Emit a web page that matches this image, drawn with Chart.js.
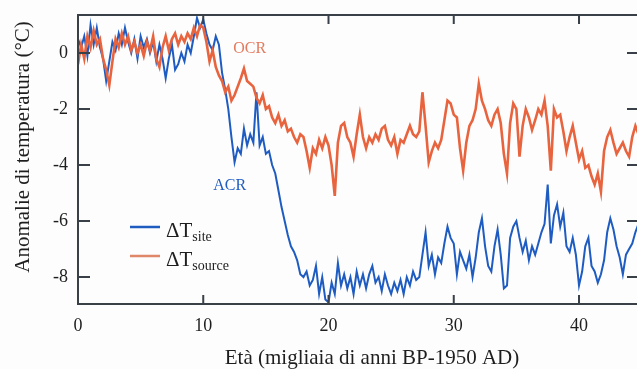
<!DOCTYPE html>
<html>
<head>
<meta charset="utf-8">
<script src="https://cdn.jsdelivr.net/npm/chart.js@4"></script>
<style>
  body { margin: 0; background: #fdfdfd; }
  canvas { display: block; }
</style>
</head>
<body>
<canvas id="chart" width="637" height="369"></canvas>
<script>
// ages in kyr BP
const ages = [
  0, 0.25, 0.5, 0.75, 1, 1.25, 1.5, 1.75, 2, 2.25, 2.5, 2.75, 3, 3.25, 3.5, 3.75,
  4, 4.25, 4.5, 4.75, 5, 5.25, 5.5, 5.75, 6, 6.25, 6.5, 6.75, 7, 7.25, 7.5, 7.75,
  8, 8.25, 8.5, 8.75, 9, 9.25, 9.5, 9.75, 10, 10.25, 10.5, 10.75, 11, 11.25, 11.5, 11.75,
  12, 12.25, 12.5, 12.75, 13, 13.25, 13.5, 13.75, 14, 14.25, 14.5, 14.75, 15, 15.25, 15.5, 15.75,
  16, 16.25, 16.5, 16.75, 17, 17.25, 17.5, 17.75, 18, 18.25, 18.5, 18.75, 19, 19.25, 19.5, 19.75,
  20, 20.25, 20.5, 20.75, 21, 21.25, 21.5, 21.75, 22, 22.25, 22.5, 22.75, 23, 23.25, 23.5, 23.75,
  24, 24.25, 24.5, 24.75, 25, 25.25, 25.5, 25.75, 26, 26.25, 26.5, 26.75, 27, 27.25, 27.5, 27.75,
  28, 28.25, 28.5, 28.75, 29, 29.25, 29.5, 29.75, 30, 30.25, 30.5, 30.75, 31, 31.25, 31.5, 31.75,
  32, 32.25, 32.5, 32.75, 33, 33.25, 33.5, 33.75, 34, 34.25, 34.5, 34.75, 35, 35.25, 35.5, 35.75,
  36, 36.25, 36.5, 36.75, 37, 37.25, 37.5, 37.75, 38, 38.25, 38.5, 38.75, 39, 39.25, 39.5, 39.75,
  40, 40.25, 40.5, 40.75, 41, 41.25, 41.5, 41.75, 42, 42.25, 42.5, 42.75, 43, 43.25, 43.5, 43.75,
  44, 44.25, 44.5, 44.75
];

// ΔT site (ACR)
const dtSite = [
  0.5, 0.2, 0.6, -0.1, 1.0, 0.3, 0.9, 0.2, -0.2, -1.0, -0.3, 0.4, 0.1, 0.7, 0.3, 0.9,
  0.4, 0.0, 0.5, -0.2, 0.6, 0.2, 0.5, 0.0, 0.4, -0.3, 0.3, -0.2, -0.9, -0.2, 0.3, -0.6,
  -0.4, 0.0, -0.3, 0.3, 0.0, 0.6, 1.25, 0.9, 1.2, 0.7, 0.3, 0.1, 0.6, 0.3, -0.7, -1.3,
  -2.0, -3.0, -3.9, -3.4, -3.6, -2.7, -3.3, -2.9, -3.2, -1.4, -3.3, -3.0, -3.6, -3.5, -4.0, -4.3,
  -4.9, -5.5, -6.0, -6.5, -6.9, -7.1, -7.4, -7.9, -8.0, -7.8, -8.3, -8.1, -7.6, -8.6, -8.0, -8.8,
  -8.9, -8.2, -8.6, -7.5, -8.3, -7.9, -8.4, -8.0, -8.6, -7.8, -8.3, -7.9, -8.4, -7.9, -7.6, -8.2,
  -8.0, -8.5, -7.9, -8.3, -8.6, -8.2, -8.5, -8.1, -8.6, -8.0, -8.3, -7.8, -8.1, -8.0, -7.2, -6.4,
  -7.6, -7.2, -7.9, -7.3, -7.5, -6.8, -6.2, -6.6, -6.8, -7.9, -7.1, -7.4, -7.7, -7.2, -8.0, -7.3,
  -6.4, -5.9, -6.9, -7.6, -7.8, -6.9, -6.3, -7.2, -8.4, -8.3, -6.6, -6.2, -6.0, -6.6, -7.1, -6.7,
  -7.4, -6.9, -7.2, -6.8, -6.4, -6.1, -4.7, -6.8, -5.8, -5.4, -6.2, -5.7, -6.9, -7.1, -6.6, -7.2,
  -8.3, -7.8, -6.9, -6.6, -7.6, -7.8, -8.2, -7.9, -7.4, -6.4, -5.9, -6.3, -6.9, -7.3, -7.9, -7.2,
  -7.0, -6.8, -6.4, -6.1
];

// ΔT source (OCR)
const dtSource = [
  -0.4, 0.3, -0.2, 0.6, 0.2, 0.8, 0.3, 0.5, -0.2, -0.6, -1.15, -0.3, 0.5, 0.2, 0.7, 0.3,
  0.6, 0.1, 0.4, 0.0, 0.3, -0.1, 0.4, 0.1, 0.6, -0.2, -0.5, 0.2, 0.6, 0.1, 0.5, 0.7,
  0.3, 0.6, 0.4, 0.7, 0.5, 0.9, 0.6, 1.0, 0.9, 0.4, -0.3, 0.1, -0.5, -0.8, -1.0, -1.4,
  -1.2, -1.7, -1.5, -1.2, -0.9, -0.55, -1.0, -1.1, -1.2, -1.6, -1.8, -1.5, -2.0, -1.9, -2.3, -2.5,
  -2.2, -2.6, -2.4, -2.8, -2.7, -3.0, -3.2, -2.9, -3.0, -3.5, -4.1, -3.4, -3.6, -3.1, -3.4, -3.0,
  -3.3, -4.0, -5.1, -3.2, -2.6, -2.5, -3.0, -3.2, -3.7, -2.9, -2.2, -3.0, -3.4, -3.0, -3.2, -2.9,
  -3.1, -2.7, -2.6, -3.1, -3.3, -3.0, -3.6, -3.1, -3.2, -2.9, -2.6, -2.9, -3.0, -2.8, -1.4, -2.6,
  -3.9, -3.5, -3.2, -3.4, -3.1, -2.4, -1.7, -1.8, -2.2, -2.3, -3.4, -4.2, -3.2, -2.6, -2.4, -2.0,
  -1.1, -1.7, -2.0, -2.4, -2.6, -2.2, -2.0, -2.5, -3.6, -4.3, -2.5, -1.8, -2.0, -3.7, -2.6, -2.0,
  -2.3, -2.75, -2.4, -2.0, -2.2, -1.7, -2.6, -4.2, -2.0, -2.3, -2.2, -2.8, -3.5, -3.0, -2.6, -3.2,
  -3.8, -3.5, -4.1, -4.0, -4.4, -4.7, -4.3, -4.95, -3.5, -3.0, -2.75, -3.2, -3.6, -3.4, -3.2, -3.5,
  -3.7, -3.0, -2.6, -2.9
];

const xTicks = [0, 10, 20, 30, 40];
const yTicks = [-8, -6, -4, -2, 0];

const blue = '#1f5cc2';
const red = '#e8643f';
const axisColor = '#3a4048';
const serif = '"Liberation Serif", "DejaVu Serif", serif';

const toPoints = (ys) => ys.map((v, i) => ({ x: ages[i], y: v }));

// frame, inward ticks, labels, legend and titles
const decorations = {
  id: 'decorations',
  afterDatasetsDraw(chart) {
    const { ctx, chartArea: a, scales: { x, y } } = chart;
    ctx.save();
    ctx.strokeStyle = axisColor;
    ctx.lineWidth = 2;
    ctx.beginPath();
    ctx.moveTo(a.right + 2, a.top);
    ctx.lineTo(a.left, a.top);
    ctx.lineTo(a.left, a.bottom);
    ctx.lineTo(a.right + 2, a.bottom);
    ctx.stroke();

    ctx.beginPath();
    xTicks.forEach(v => {
      const px = x.getPixelForValue(v);
      ctx.moveTo(px, a.bottom); ctx.lineTo(px, a.bottom - 9);
      ctx.moveTo(px, a.top); ctx.lineTo(px, a.top + 9);
    });
    yTicks.forEach(v => {
      const py = y.getPixelForValue(v);
      ctx.moveTo(a.left, py); ctx.lineTo(a.left + 12, py);
      ctx.moveTo(a.right, py); ctx.lineTo(a.right - 10, py);
    });
    ctx.stroke();

    // curve labels
    ctx.font = '16px ' + serif;
    ctx.textBaseline = 'alphabetic';
    ctx.fillStyle = '#e47a5e';
    ctx.fillText('OCR', x.getPixelForValue(12.4), y.getPixelForValue(-0.01));
    ctx.fillStyle = blue;
    ctx.fillText('ACR', x.getPixelForValue(10.8), y.getPixelForValue(-4.9));

    // legend
    const rows = [
      { color: blue, sub: 'site', ly: 227 },
      { color: '#e0876a', sub: 'source', ly: 256 }
    ];
    rows.forEach(r => {
      ctx.strokeStyle = r.color;
      ctx.lineWidth = 2.5;
      ctx.beginPath();
      ctx.moveTo(130, r.ly); ctx.lineTo(160, r.ly);
      ctx.stroke();
      ctx.fillStyle = '#1e1e1e';
      ctx.font = '21px ' + serif;
      ctx.fillText('ΔT', 166, r.ly + 10);
      const w = ctx.measureText('ΔT').width;
      ctx.font = '14px ' + serif;
      ctx.fillText(r.sub, 166 + w, r.ly + 14);
    });

    // axis titles
    ctx.fillStyle = '#1e1e1e';
    ctx.font = '21px ' + serif;
    ctx.textAlign = 'center';
    ctx.fillText('Età (migliaia di anni BP-1950 AD)', 372, 364);
    ctx.translate(29, 147);
    ctx.rotate(-Math.PI / 2);
    ctx.fillText('Anomalie di temperatura (°C)', 0, 0);
    ctx.restore();
  }
};

const ctx = document.getElementById('chart').getContext('2d');

new Chart(ctx, {
  type: 'line',
  data: {
    datasets: [
      {
        label: 'ΔT source',
        data: toPoints(dtSource),
        borderColor: red,
        borderWidth: 2.6,
        pointRadius: 0,
        tension: 0
      },
      {
        label: 'ΔT site',
        data: toPoints(dtSite),
        borderColor: blue,
        borderWidth: 2,
        pointRadius: 0,
        tension: 0
      }
    ]
  },
  options: {
    responsive: false,
    animation: false,
    layout: { padding: { top: 15, left: 0, right: 0, bottom: 0 } },
    plugins: {
      legend: { display: false },
      tooltip: { enabled: false }
    },
    scales: {
      x: {
        type: 'linear',
        min: 0,
        max: 44.63,
        afterFit: s => { s.height = 65; },
        afterBuildTicks: s => { s.ticks = xTicks.map(v => ({ value: v })); },
        grid: { display: false },
        border: { display: false },
        ticks: {
          color: '#1e1e1e',
          font: { family: serif, size: 18 },
          padding: 3,
          maxRotation: 0
        }
      },
      y: {
        min: -8.96,
        max: 1.357,
        afterFit: s => { s.width = 78; },
        afterBuildTicks: s => { s.ticks = yTicks.map(v => ({ value: v })); },
        grid: { display: false },
        border: { display: false },
        ticks: {
          color: '#1e1e1e',
          font: { family: serif, size: 18 },
          padding: 2
        }
      }
    }
  },
  plugins: [decorations]
});
</script>
</body>
</html>
